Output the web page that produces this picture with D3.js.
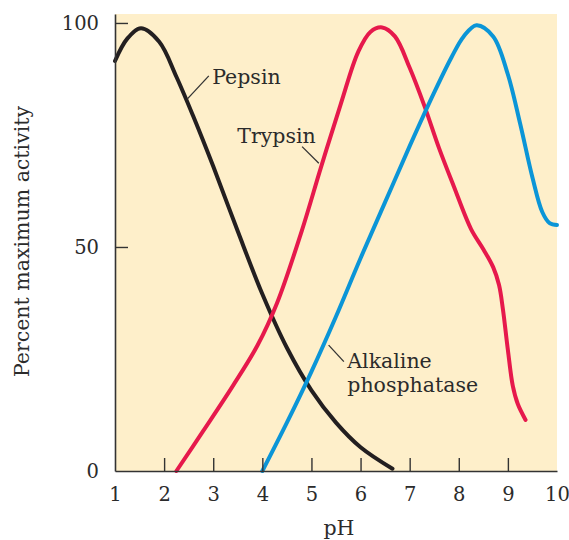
<!DOCTYPE html>
<html>
<head>
<meta charset="utf-8">
<script src="https://cdn.jsdelivr.net/npm/d3@7"></script>
<style>
  html, body { margin: 0; padding: 0; background: #ffffff; }
  svg { display: block; }
  text { font-family: "DejaVu Serif", serif; fill: #2b2b2b; }
</style>
</head>
<body>
<svg id="chart" width="569" height="540"></svg>
<script>
// ---- data ----
const xTicks = [1, 2, 3, 4, 5, 6, 7, 8, 9, 10];
const yTicks = [0, 50, 100];

const pepsinPH  = [1.0, 1.25, 1.53, 1.9, 2.25, 2.6, 3.0, 3.5, 4.0, 4.5, 5.0, 5.5, 6.0, 6.65];
const pepsinAct = [91.5, 96.5, 98.8, 95.8, 88, 79, 68, 53.5, 39.5, 27.5, 18, 10.8, 5.3, 0.5];

const trypsinPH  = [2.25, 2.8, 3.4, 3.9, 4.3, 4.8, 5.2, 5.6, 5.95, 6.2, 6.44, 6.7, 7.0, 7.3, 7.6, 7.9, 8.25, 8.5, 8.7, 8.82, 8.9, 9.0, 9.1, 9.2, 9.36];
const trypsinAct = [0, 9, 19, 28, 37.5, 53.5, 68, 82, 93.5, 98, 99, 97, 90, 81.5, 72, 63.5, 54, 49.5, 45.5, 41.5, 36, 27, 19, 15, 11.4];

const alkPH  = [4.0, 4.5, 5.0, 5.5, 6.0, 6.5, 7.0, 7.5, 7.85, 8.1, 8.36, 8.7, 9.0, 9.25, 9.5, 9.7, 9.85, 10.0];
const alkAct = [0, 10.8, 22.2, 34.5, 47.5, 60, 72.5, 84.5, 92.3, 97, 99.5, 97, 88.5, 77.5, 65.5, 57.8, 55.3, 54.9];

const seriesNames  = ["Pepsin", "Trypsin", "Alkaline phosphatase"];
const seriesColors = ["#231f20", "#e6194c", "#0b95d7"];

// annotation labels (data units)
const labelLines = [["Pepsin"], ["Trypsin"], ["Alkaline", "phosphatase"]];
const labelPos   = [[2.98, 86.4], [3.49, 73.2], [5.73, 22.9]];
const leaderFrom = [[2.47, 83.0], [4.81, 72.4], [5.35, 28.1]];
const leaderTo   = [[2.91, 88.2], [5.15, 68.7], [5.66, 24.4]];

// ---- layout ----
const svg = d3.select("#chart");
const x = d3.scaleLinear().domain([1, 10]).range([115, 557]);
const y = d3.scaleLinear().domain([0, 102]).range([471, 14]);

// background
svg.append("rect")
  .attr("x", x(1)).attr("y", y(102))
  .attr("width", x(10) - x(1)).attr("height", y(0) - y(102))
  .attr("fill", "#feefca");

// curves
const line = d3.line()
  .x(d => x(d[0])).y(d => y(d[1]))
  .curve(d3.curveCatmullRom.alpha(0.5));

const series = [
  d3.zip(pepsinPH, pepsinAct),
  d3.zip(trypsinPH, trypsinAct),
  d3.zip(alkPH, alkAct)
];

series.forEach((s, i) => {
  svg.append("path")
    .attr("d", line(s))
    .attr("fill", "none")
    .attr("stroke", seriesColors[i])
    .attr("stroke-width", 4)
    .attr("stroke-linecap", "round")
    .attr("stroke-linejoin", "round");
});

// leader lines + labels
labelLines.forEach((lines, i) => {
  svg.append("line")
    .attr("x1", x(leaderFrom[i][0])).attr("y1", y(leaderFrom[i][1]))
    .attr("x2", x(leaderTo[i][0])).attr("y2", y(leaderTo[i][1]))
    .attr("stroke", "#333").attr("stroke-width", 1.3);
  const t = svg.append("text")
    .attr("x", x(labelPos[i][0])).attr("y", y(labelPos[i][1]))
    .style("font-size", "20.5px");
  lines.forEach((l, j) => {
    t.append("tspan").attr("x", x(labelPos[i][0])).attr("dy", j === 0 ? 0 : 23.4).text(l);
  });
});

// axes
const xAxis = d3.axisBottom(x).tickValues(xTicks).tickFormat(d3.format("d"))
  .tickSizeInner(-13).tickSizeOuter(0).tickPadding(16);
const gx = svg.append("g").attr("transform", `translate(0,${y(0)})`).call(xAxis);

const yAxis = d3.axisLeft(y).tickValues(yTicks).tickFormat(d3.format("d"))
  .tickSizeInner(-13).tickSizeOuter(0).tickPadding(16);
const gy = svg.append("g").attr("transform", `translate(${x(1)},0)`).call(yAxis);

[gx, gy].forEach(g => {
  g.select(".domain").attr("stroke", "#333").attr("stroke-width", 1.6);
  g.selectAll(".tick line").attr("stroke", "#333").attr("stroke-width", 1.4);
  g.selectAll(".tick text")
    .style("font-family", "'DejaVu Serif', serif")
    .style("font-size", "19.5px")
    .attr("fill", "#2b2b2b");
});
gx.selectAll(".tick").filter(d => d === 1 || d === 10).select("line").remove();
gy.selectAll(".tick").filter(d => d === 0).select("line").remove();

// axis titles
svg.append("text")
  .attr("x", (x(1) + x(10)) / 2 + 3).attr("y", 535)
  .attr("text-anchor", "middle")
  .style("font-size", "20.5px")
  .text("pH");

svg.append("text")
  .attr("transform", `translate(29,${(y(0) + y(102)) / 2 - 1}) rotate(-90)`)
  .attr("text-anchor", "middle")
  .style("font-size", "20.5px")
  .text("Percent maximum activity");
</script>
</body>
</html>
